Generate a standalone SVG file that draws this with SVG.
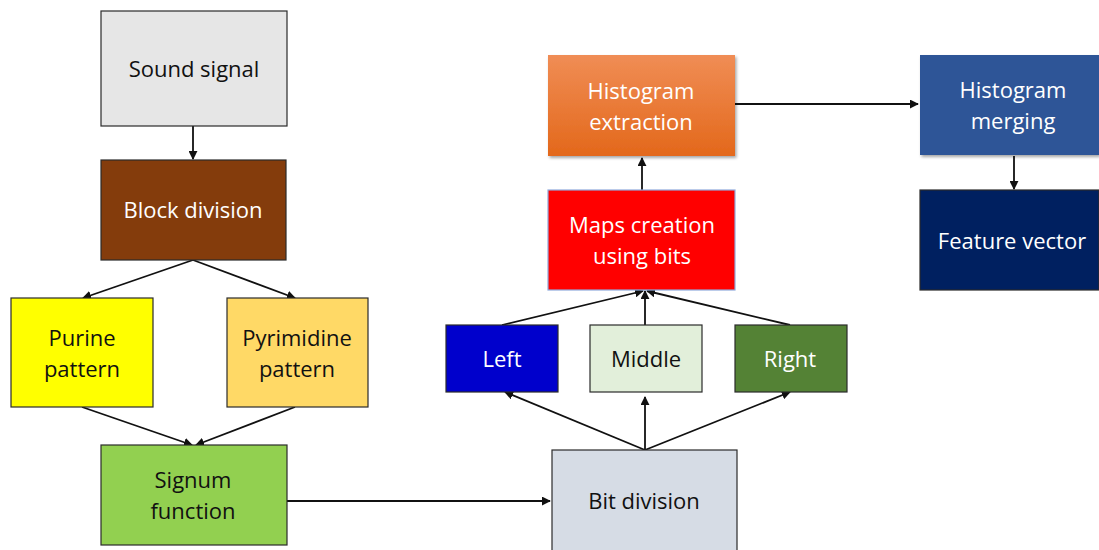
<svg xmlns="http://www.w3.org/2000/svg" width="1099" height="550" viewBox="0 0 1099 550">
<style>
.box{stroke:#2b2b2b;stroke-width:1.2}
.t{font-family:"Open Sans","Liberation Sans",sans-serif;font-size:22px;text-anchor:middle;fill:#111}
.w{fill:#fff}
.c{stroke:#111;stroke-width:1.8;fill:none;marker-end:url(#ah)}
</style>
<defs>
<marker id="ah" viewBox="0 0 10 10" refX="9" refY="5" markerWidth="5" markerHeight="5" orient="auto" markerUnits="strokeWidth">
<path d="M0,0 L10,5 L0,10 z" fill="#111"/>
</marker>
<linearGradient id="og" x1="0" y1="0" x2="0" y2="1">
<stop offset="0" stop-color="#f08d55"/>
<stop offset="1" stop-color="#e3681b"/>
</linearGradient>
<filter id="sh" x="-10%" y="-10%" width="125%" height="125%">
<feDropShadow dx="1.5" dy="2" stdDeviation="1.5" flood-color="#000" flood-opacity="0.35"/>
</filter>
</defs>
<rect width="1099" height="550" fill="#fff"/>
<g id="connectors">
<path class="c" d="M193,126 L193,159"/>
<path class="c" d="M193,260 L83,298"/>
<path class="c" d="M193,260 L295,298"/>
<path class="c" d="M82,407 L192,445"/>
<path class="c" d="M295,407 L196,445"/>
<path class="c" d="M287,501 L550,501"/>
<path class="c" d="M645,450 L505,392"/>
<path class="c" d="M645,450 L645,397"/>
<path class="c" d="M645,450 L790,392"/>
<path class="c" d="M502,325 L643,291"/>
<path class="c" d="M645,325 L645,291"/>
<path class="c" d="M790,325 L647,291"/>
<path class="c" d="M642,190 L642,158"/>
<path class="c" d="M735,104 L918,104"/>
<path class="c" d="M1014,156 L1014,189"/>
</g>
<g id="sound"><rect class="box" x="101" y="11" width="186" height="115" fill="#e6e6e6"/><text class="t" x="194" y="77">Sound signal</text></g>
<g id="block"><rect class="box" x="101" y="160" width="185" height="100" fill="#843c0c"/><text class="t w" x="193" y="218">Block division</text></g>
<g id="purine"><rect class="box" x="11" y="298" width="142" height="109" fill="#ffff00"/><text class="t" x="82" y="346">Purine</text><text class="t" x="82" y="377">pattern</text></g>
<g id="pyrimidine"><rect class="box" x="227" y="298" width="141" height="109" fill="#ffd966"/><text class="t" x="297" y="346">Pyrimidine</text><text class="t" x="297" y="377">pattern</text></g>
<g id="signum"><rect class="box" x="101" y="445" width="186" height="100" fill="#92d050"/><text class="t" x="193" y="488">Signum</text><text class="t" x="193" y="519">function</text></g>
<g id="bit"><rect class="box" x="552" y="450" width="185" height="102" fill="#d6dce5"/><text class="t" x="644" y="509">Bit division</text></g>
<g id="left"><rect class="box" x="446" y="325" width="112" height="67" fill="#0000cc"/><text class="t w" x="502" y="367">Left</text></g>
<g id="middle"><rect class="box" x="590" y="325" width="112" height="67" fill="#e2efda"/><text class="t" x="646" y="367">Middle</text></g>
<g id="right"><rect class="box" x="735" y="325" width="112" height="67" fill="#548235"/><text class="t w" x="790" y="367">Right</text></g>
<g id="maps"><rect x="548" y="190" width="187" height="100" fill="#ff0000" stroke="#8faadc" stroke-width="1.2"/><text class="t w" x="642" y="233">Maps creation</text><text class="t w" x="642" y="264">using bits</text></g>
<g id="histext"><rect x="548" y="55" width="187" height="101" fill="url(#og)" filter="url(#sh)"/><text class="t w" x="641" y="99">Histogram</text><text class="t w" x="641" y="130">extraction</text></g>
<g id="histmerge"><rect x="920" y="55" width="179" height="100" fill="#2f5597" filter="url(#sh)"/><text class="t w" x="1013" y="98">Histogram</text><text class="t w" x="1013" y="129">merging</text></g>
<g id="feature"><rect class="box" x="920" y="190" width="179" height="100" fill="#002060"/><text class="t w" x="1012" y="249">Feature vector</text></g>
</svg>
